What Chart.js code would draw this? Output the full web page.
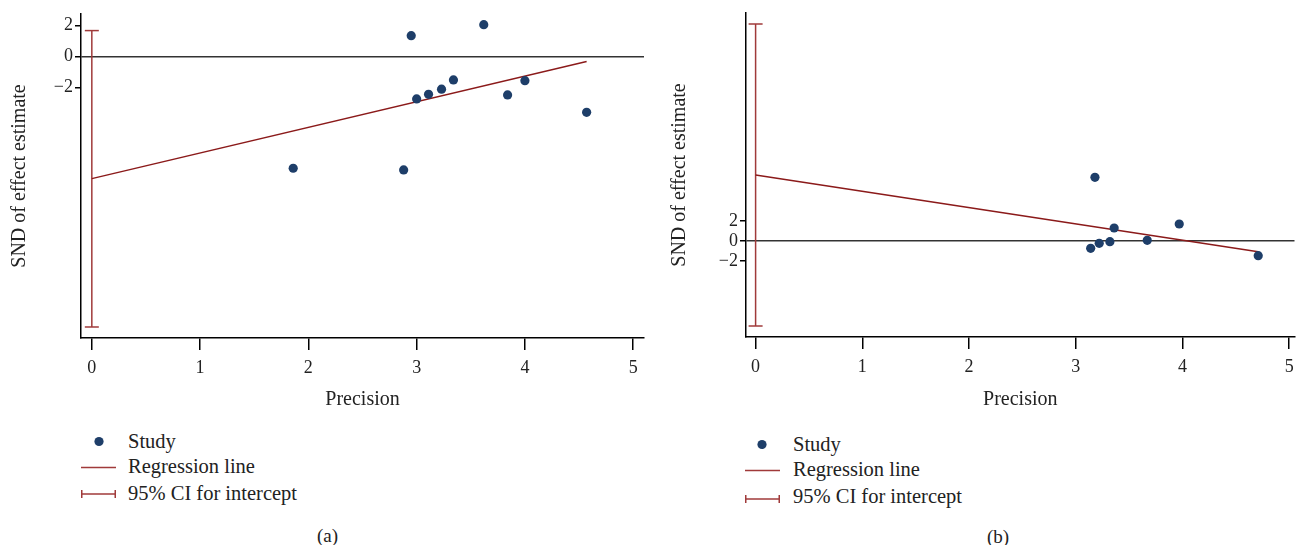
<!DOCTYPE html>
<html>
<head>
<meta charset="utf-8">
<script src="https://cdn.jsdelivr.net/npm/chart.js@4.4.0/dist/chart.umd.min.js"></script>
<style>
  body { margin: 0; background: #fff; width: 1303px; height: 545px; position: relative; overflow: hidden;
         font-family: 'Liberation Serif', 'Times New Roman', serif; color: #222; }
  canvas { position: absolute; top: 0; }
  #chartA { left: 0; }
  #chartB { left: 660px; }
  .lg { position: absolute; font-size: 20.5px; line-height: 20px; white-space: nowrap; }
  .sym { position: absolute; }
  .cap { position: absolute; font-size: 19px; }
</style>
</head>
<body>
<canvas id="chartA" width="660" height="420"></canvas>
<canvas id="chartB" width="643" height="420"></canvas>

<!-- legend (a) -->
<svg class="sym" style="left:81px; top:432px;" width="36" height="70">
  <circle cx="18" cy="9.5" r="4.6" fill="#1e3e69"/>
  <line x1="0" y1="35.5" x2="35" y2="35.5" stroke="#a03a3a" stroke-width="1.5"/>
  <line x1="0" y1="62" x2="35" y2="62" stroke="#a03a3a" stroke-width="1.5"/>
  <line x1="0.75" y1="58" x2="0.75" y2="66" stroke="#a03a3a" stroke-width="1.5"/>
  <line x1="34.25" y1="58" x2="34.25" y2="66" stroke="#a03a3a" stroke-width="1.5"/>
</svg>
<div class="lg" style="left:128px; top:431px;">Study</div>
<div class="lg" style="left:128px; top:456px;">Regression line</div>
<div class="lg" style="left:128px; top:483px;">95% CI for intercept</div>
<div class="cap" style="left:317px; top:525px;">(a)</div>

<!-- legend (b) -->
<svg class="sym" style="left:745px; top:435px;" width="36" height="70">
  <circle cx="17" cy="9.5" r="4.6" fill="#1e3e69"/>
  <line x1="0" y1="35.5" x2="35" y2="35.5" stroke="#a03a3a" stroke-width="1.5"/>
  <line x1="0" y1="64" x2="35" y2="64" stroke="#a03a3a" stroke-width="1.5"/>
  <line x1="0.75" y1="60" x2="0.75" y2="68" stroke="#a03a3a" stroke-width="1.5"/>
  <line x1="34.25" y1="60" x2="34.25" y2="68" stroke="#a03a3a" stroke-width="1.5"/>
</svg>
<div class="lg" style="left:793px; top:434px;">Study</div>
<div class="lg" style="left:793px; top:459px;">Regression line</div>
<div class="lg" style="left:793px; top:486px;">95% CI for intercept</div>
<div class="cap" style="left:987px; top:526px;">(b)</div>

<script>
// ---- data ----
// panel (a)
const precisionA = [1.86, 2.88, 2.95, 3.62, 3.00, 3.11, 3.23, 3.34, 3.84, 4.00, 4.57];
const sndA = [-7.20, -7.31, 1.35, 2.06, -2.73, -2.43, -2.10, -1.50, -2.47, -1.55, -3.59];
const regPrecisionA = [0, 4.57];
const regSndA = [-7.87, -0.32];
const ciA = [-17.44, 1.68];

// panel (b)
const precisionB = [3.18, 3.36, 3.97, 3.14, 3.22, 3.32, 3.67, 4.71];
const sndB = [6.37, 1.30, 1.70, -0.73, -0.23, -0.07, 0.07, -1.47];
const regPrecisionB = [0, 4.71];
const regSndB = [6.60, -1.07];
const ciB = [-8.5, 21.7];

const xTicks = [0, 1, 2, 3, 4, 5];
const yTicks = [-2, 0, 2];

const SERIF = "'Liberation Serif', 'Times New Roman', serif";
Chart.defaults.font.family = SERIF;
Chart.defaults.color = '#222';

function toPoints(xs, ys) {
    return xs.map((x, i) => ({ x: x, y: ys[i] }));
}

function fmt(v) {
    return v < 0 ? '\u2212' + Math.abs(v) : String(v);
}

/*
    Builds one Egger regression plot
*/
function eggerChart(id, p) {
    const ctx = document.getElementById(id).getContext('2d');
    return new Chart(ctx, {
        type: 'scatter',
        data: {
            datasets: [
                {
                    label: '95% CI for intercept',
                    data: toPoints([0, 0], p.ci),
                    showLine: true,
                    borderColor: '#a03a3a',
                    borderWidth: 1.5,
                    pointStyle: 'line',
                    pointRadius: 7,
                    pointBorderWidth: 1.5,
                    pointBorderColor: '#a03a3a',
                    order: 3
                },
                {
                    label: 'Regression line',
                    data: toPoints(p.regX, p.regY),
                    showLine: true,
                    borderColor: '#8b1a1a',
                    borderWidth: 1.5,
                    pointRadius: 0,
                    order: 2
                },
                {
                    label: 'Study',
                    data: toPoints(p.x, p.y),
                    backgroundColor: '#1e3e69',
                    borderColor: '#1e3e69',
                    pointRadius: 4.6,
                    borderWidth: 0,
                    order: 1
                }
            ]
        },
        options: {
            responsive: false,
            animation: false,
            devicePixelRatio: 1,
            layout: { padding: { top: p.padTop, right: p.padRight, bottom: 0, left: 0 } },
            plugins: { legend: { display: false }, tooltip: { enabled: false } },
            scales: {
                x: {
                    type: 'linear',
                    min: p.xMin,
                    max: p.xMax,
                    afterBuildTicks: (s) => { s.ticks = xTicks.map(v => ({ value: v })); },
                    afterFit: (s) => { s.height = p.xHeight; },
                    ticks: { font: { family: SERIF, size: 18 }, color: '#222', padding: 7, maxRotation: 0, callback: fmt },
                    grid: { drawOnChartArea: false, tickLength: 12, tickColor: '#000', lineWidth: 1.5 },
                    border: { color: '#000', width: 1.5 },
                    title: { display: true, text: 'Precision', font: { family: SERIF, size: 20 }, color: '#222', padding: { top: 0, bottom: 8 } }
                },
                y: {
                    type: 'linear',
                    min: p.yMin,
                    max: p.yMax,
                    afterBuildTicks: (s) => { s.ticks = yTicks.map(v => ({ value: v })); },
                    afterFit: (s) => { s.width = p.yWidth; },
                    ticks: { font: { family: SERIF, size: 18 }, color: '#222', padding: 2, callback: fmt },
                    grid: {
                        color: (c) => (c.tick && c.tick.value === 0 ? '#333' : 'rgba(0,0,0,0)'),
                        tickColor: '#000',
                        tickLength: 6,
                        lineWidth: 1.5
                    },
                    border: { color: '#000', width: 1.5 },
                    title: { display: true, text: 'SND of effect estimate', font: { family: SERIF, size: 20 }, color: '#222', padding: { top: 8, bottom: 0 } }
                }
            }
        }
    });
}

eggerChart('chartA', {
    x: precisionA, y: sndA, regX: regPrecisionA, regY: regSndA, ci: ciA,
    xMin: -0.1, xMax: 5.1, yMin: -18.15, yMax: 2.75,
    padTop: 14, padRight: 16, xHeight: 82, yWidth: 81
});

eggerChart('chartB', {
    x: precisionB, y: sndB, regX: regPrecisionB, regY: regSndB, ci: ciB,
    xMin: -0.09, xMax: 5.05, yMin: -9.6, yMax: 22.8,
    padTop: 13, padRight: 0, xHeight: 83, yWidth: 86
});
</script>
</body>
</html>
